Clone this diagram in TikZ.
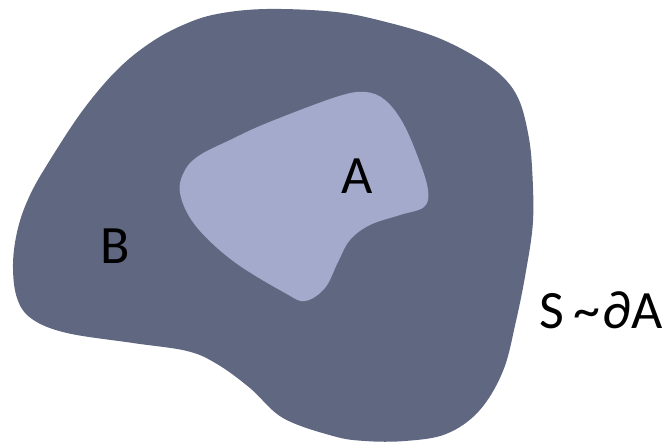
\documentclass[tikz,border=0pt]{standalone}
\usepackage{fontspec}
\setmainfont{Carlito}
\usepackage{tikz}

\definecolor{regionB}{RGB}{96,103,128}
\definecolor{regionA}{RGB}{164,170,204}

\begin{document}
\begin{tikzpicture}[x=1pt, y=-1pt, every node/.style={inner sep=0pt, font=\fontsize{54}{60}\selectfont}]
	\useasboundingbox (0,0) rectangle (672,442);
	% outer region B
	\fill[regionB] plot[smooth cycle, tension=0.6] coordinates {
		(267,9) (336,12) (386,22) (436,37) (476,57) (503,77) (519,100) (528,133)
		(532,167) (533,221) (526,271) (516,321) (503,371) (479,411) (446,434)
		(405,441) (365,441) (333,436) (283,418) (250,388) (217,364) (187,351)
		(133,343) (67,333) (32,319) (17,298) (13,264) (18,228) (30,195) (50,160)
		(83,110) (117,70) (150,43) (183,25) (217,14)};
	% inner region A
	\fill[regionA] plot[smooth cycle, tension=0.6] coordinates {
		(180,193) (185,170) (200,155) (230,140) (267,123) (336,97) (365,92)
		(385,100) (403,123) (419,160) (428,190) (424,207) (400,215) (370,225)
		(350,240) (338,262) (325,288) (305,301) (285,293) (233,261) (195,225)};
	\node (labA) at (357,176) {A};
	\node (labB) at (115,246) {B};
	\node[anchor=base west] (labS) at (539,328) {S\hspace{10pt}\textasciitilde\hspace{2pt}∂A};
\end{tikzpicture}
\end{document}
